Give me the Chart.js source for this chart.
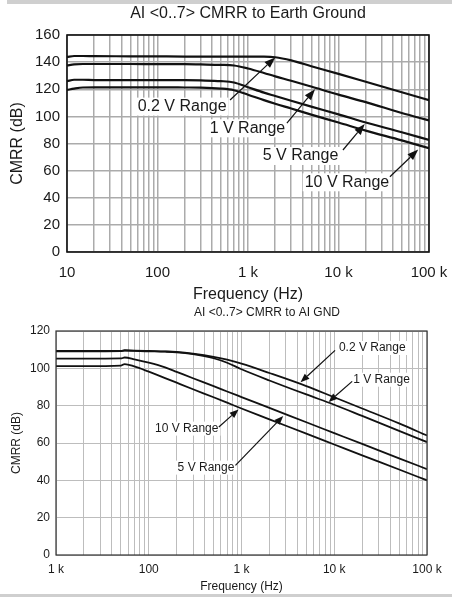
<!DOCTYPE html>
<html>
<head>
<meta charset="utf-8">
<title>AI CMRR</title>
<script src="https://cdn.jsdelivr.net/npm/chart.js@4.4.1/dist/chart.umd.min.js"></script>
<style>
  body { margin: 0; background: #fff; }
  #wrap { position: relative; width: 452px; height: 597px; overflow: hidden; }
  canvas { position: absolute; left: 0; }
  #earthChart { top: 0; }
  #gndChart { top: 300px; }
  .band { position: absolute; background: #cfcfcf; }
</style>
</head>
<body>
<div id="wrap">
  <div class="band" style="left:7px;top:0;width:445px;height:4px"></div>
  <canvas id="earthChart" width="452" height="304"></canvas>
  <canvas id="gndChart" width="452" height="294"></canvas>
  <div class="band" style="left:0;top:594px;width:452px;height:3px"></div>
</div>
<script>
// x axis decades and their printed labels (the lower plot really prints "1 k" at 10 Hz)
const decades = [10, 100, 1000, 10000, 100000];
const earthXLabels = ['10', '100', '1 k', '10 k', '100 k'];
const gndXLabels = ['1 k', '100', '1 k', '10 k', '100 k'];

// CMRR to earth ground (top plot), dB vs Hz
const earthFreq = [10, 12, 15, 20, 50, 100, 200, 300, 500, 700, 1000, 1500, 2000, 3000, 5000, 10000, 20000, 50000, 100000];
const earth02V = [143.8, 144.5, 144.5, 144.4, 144.3, 144.2, 144.1, 144, 144, 144, 144, 144, 143.6, 141.3, 137, 131.3, 125.5, 117.8, 112];
const earth1V = [137.5, 138.3, 138.6, 138.6, 138.6, 138.5, 138.5, 138.3, 138, 137.5, 135.3, 132, 129.5, 126.3, 122, 116, 110.5, 102.5, 97];
const earth5V = [126, 127, 127, 126.8, 126.8, 126.8, 126.7, 126.5, 126, 125, 121.5, 117.5, 115, 111.5, 107.2, 101.5, 95.5, 88.3, 82.6];
const earth10V = [119.5, 120.5, 121.3, 121.4, 121.4, 121.4, 121.3, 121.2, 120.5, 119.3, 116, 112, 109.3, 105.8, 101.3, 95.5, 89.5, 82.3, 76.5];

// CMRR to AI GND (bottom plot)
const gndFreq = [10, 20, 50, 55, 70, 100, 150, 200, 300, 500, 700, 1000, 2000, 5000, 10000, 20000, 50000, 100000];
const gnd02V = [109.3, 109.3, 109.4, 109.7, 109.5, 109.3, 109.1, 108.8, 107.9, 106.2, 104.6, 102.5, 97.5, 90.5, 84.5, 78.5, 70.5, 64];
const gnd1V = [109.1, 109.1, 109.2, 109.5, 109.3, 109.1, 108.9, 108.6, 107.6, 105.4, 103, 99.5, 93.5, 86, 80.5, 74.5, 66.5, 60.5];
const gnd5V = [105.2, 105.2, 105.3, 105.8, 104.8, 103, 100.5, 98.1, 94.7, 90.5, 87.6, 84.6, 78.8, 71.1, 65.3, 59.5, 51.8, 46];
const gnd10V = [101.2, 101.2, 101.5, 102.3, 101, 98.2, 94.8, 92.3, 88.8, 84.5, 81.6, 78.5, 72.7, 65, 59.2, 53.4, 45.8, 40];

// callouts: label, label centre, arrow tail, arrow tip (Hz, dB)
const earthNotes = ['0.2 V Range', '1 V Range', '5 V Range', '10 V Range'];
const earthNoteAt = [[187, 107.2], [986, 91.2], [3800, 70.8], [12400, 51.4]];
const earthArrowFrom = [[634, 112.1], [2690, 95.1], [11200, 75.2], [37000, 55.5]];
const earthArrowTo = [[2000, 143.5], [5500, 120], [19500, 94.4], [76000, 75.5]];

const gndNotes = ['0.2 V Range', '1 V Range', '10 V Range', '5 V Range'];
const gndNoteAt = [[25700, 110.9], [32300, 93.9], [257, 67.7], [414, 46.8]];
const gndArrowFrom = [[10200, 109.6], [15600, 93], [570, 68.6], [861, 48]];
const gndArrowTo = [[4330, 92.5], [8700, 82], [930, 78], [2820, 74.5]];

const FONT = '"Liberation Sans", Arial, Helvetica, sans-serif';
Chart.defaults.font.family = FONT;
Chart.defaults.color = '#1a1a1a';

// 1..9 in every decade -> grid lines
const gridTicks = [];
decades.forEach((d, i) => {
    if (i === decades.length - 1) { gridTicks.push(d); return; }
    for (let m = 1; m < 10; m++) gridTicks.push(d * m);
});

function toPoints(xs, ys) {
    return xs.map((x, i) => ({ x: x, y: ys[i] }));
}

function tickLabel(labels) {
    return function (value) {
        const i = decades.findIndex(d => Math.abs(Math.log10(d) - Math.log10(value)) < 1e-6);
        return i >= 0 ? labels[i] : '';
    };
}

function headingPlugin(text, x, y, size) {
    return {
        id: 'heading',
        afterDraw(chart) {
            const ctx = chart.ctx;
            ctx.save();
            ctx.font = size + 'px ' + FONT;
            ctx.fillStyle = '#1a1a1a';
            ctx.textAlign = 'center';
            ctx.textBaseline = 'middle';
            ctx.fillText(text, x, y);
            ctx.restore();
        }
    };
}

function framePlugin(color, width) {
    return {
        id: 'frame',
        afterDatasetsDraw(chart) {
            const a = chart.chartArea, ctx = chart.ctx;
            ctx.save();
            ctx.strokeStyle = color;
            ctx.lineWidth = width;
            ctx.strokeRect(a.left, a.top, a.right - a.left, a.bottom - a.top);
            ctx.restore();
        }
    };
}

function calloutPlugin(notes, at, from, to, size, head) {
    return {
        id: 'callouts',
        afterDatasetsDraw(chart) {
            const { ctx, scales: { x, y } } = chart;
            ctx.save();
            ctx.font = size + 'px ' + FONT;
            ctx.textAlign = 'center';
            ctx.textBaseline = 'middle';
            notes.forEach((txt, i) => {
                const tx = x.getPixelForValue(at[i][0]), ty = y.getPixelForValue(at[i][1]);
                const w = ctx.measureText(txt).width;
                ctx.fillStyle = '#fff';
                ctx.fillRect(tx - w / 2 - 2, ty - size / 2 - 1, w + 4, size + 2);
                ctx.fillStyle = '#1a1a1a';
                ctx.fillText(txt, tx, ty);

                const fx = x.getPixelForValue(from[i][0]), fy = y.getPixelForValue(from[i][1]);
                const px = x.getPixelForValue(to[i][0]), py = y.getPixelForValue(to[i][1]);
                const ang = Math.atan2(py - fy, px - fx);
                const bx = px - head[0] * Math.cos(ang), by = py - head[0] * Math.sin(ang);
                ctx.strokeStyle = '#111';
                ctx.lineWidth = 1.2;
                ctx.beginPath();
                ctx.moveTo(fx, fy);
                ctx.lineTo(bx, by);
                ctx.stroke();
                ctx.beginPath();
                ctx.moveTo(px, py);
                ctx.lineTo(bx + head[1] * Math.sin(ang), by - head[1] * Math.cos(ang));
                ctx.lineTo(bx - head[1] * Math.sin(ang), by + head[1] * Math.cos(ang));
                ctx.closePath();
                ctx.fillStyle = '#111';
                ctx.fill();
            });
            ctx.restore();
        }
    };
}

function line(label, xs, ys, width) {
    return {
        label: label,
        data: toPoints(xs, ys),
        borderColor: '#111',
        backgroundColor: '#111',
        borderWidth: width,
        pointRadius: 0,
        cubicInterpolationMode: 'monotone',
        fill: false
    };
}

function buildOptions(p) {
    return {
        responsive: false,
        animation: false,
        layout: { padding: { top: p.top, right: p.right, left: 0, bottom: 0 } },
        plugins: {
            legend: { display: false },
            tooltip: { enabled: false },
            title: { display: false }
        },
        scales: {
            x: {
                type: 'logarithmic',
                min: 10,
                max: 100000,
                grid: { color: p.gridColor, lineWidth: p.gridWidth, drawTicks: false },
                border: { display: false },
                afterBuildTicks: s => { s.ticks = gridTicks.map(v => ({ value: v })); },
                ticks: {
                    autoSkip: false,
                    maxRotation: 0,
                    padding: p.xPad,
                    font: { size: p.tickSize },
                    callback: tickLabel(p.xLabels)
                },
                title: { display: true, text: 'Frequency (Hz)', font: { size: p.titleSize }, padding: { top: 0, bottom: 0 } },
                // fixed height, and let the layout padding alone set the right edge
                afterFit: s => { s.height = p.xHeight; s.paddingLeft = 0; s.paddingRight = 0; }
            },
            y: {
                min: 0,
                max: p.yMax,
                grid: { color: p.gridColor, lineWidth: p.gridWidth, drawTicks: false },
                border: { display: false },
                ticks: { stepSize: 20, padding: p.yPad, font: { size: p.tickSize } },
                title: { display: true, text: 'CMRR (dB)', font: { size: p.titleSize }, padding: { top: p.yTitlePad, bottom: 0 } },
                afterFit: s => { s.width = p.yWidth; }
            }
        }
    };
}

new Chart(document.getElementById('earthChart'), {
    type: 'line',
    data: {
        datasets: [
            line('0.2 V Range', earthFreq, earth02V, 2.2),
            line('1 V Range', earthFreq, earth1V, 2.2),
            line('5 V Range', earthFreq, earth5V, 2.2),
            line('10 V Range', earthFreq, earth10V, 2.2)
        ]
    },
    options: buildOptions({
        top: 35, right: 23, yMax: 160, xLabels: earthXLabels,
        gridColor: '#ababab', gridWidth: 1.5, tickSize: 15, titleSize: 16,
        xPad: 12, yPad: 7, yTitlePad: 8, xHeight: 52, yWidth: 67
    }),
    plugins: [
        framePlugin('#111', 1.6),
        calloutPlugin(earthNotes, earthNoteAt, earthArrowFrom, earthArrowTo, 16, [11, 4]),
        headingPlugin('AI <0..7> CMRR to Earth Ground', 248, 14, 16)
    ]
});

new Chart(document.getElementById('gndChart'), {
    type: 'line',
    data: {
        datasets: [
            line('0.2 V Range', gndFreq, gnd02V, 1.8),
            line('1 V Range', gndFreq, gnd1V, 1.8),
            line('5 V Range', gndFreq, gnd5V, 1.8),
            line('10 V Range', gndFreq, gnd10V, 1.8)
        ]
    },
    options: buildOptions({
        top: 31, right: 25, yMax: 120, xLabels: gndXLabels,
        gridColor: '#bdbdbd', gridWidth: 1, tickSize: 12, titleSize: 12,
        xPad: 7, yPad: 6, yTitlePad: 9, xHeight: 39, yWidth: 56
    }),
    plugins: [
        framePlugin('#333', 1.2),
        calloutPlugin(gndNotes, gndNoteAt, gndArrowFrom, gndArrowTo, 12, [9, 3.5]),
        headingPlugin('AI <0..7> CMRR to AI GND', 267, 13, 12)
    ]
});
</script>
</body>
</html>
